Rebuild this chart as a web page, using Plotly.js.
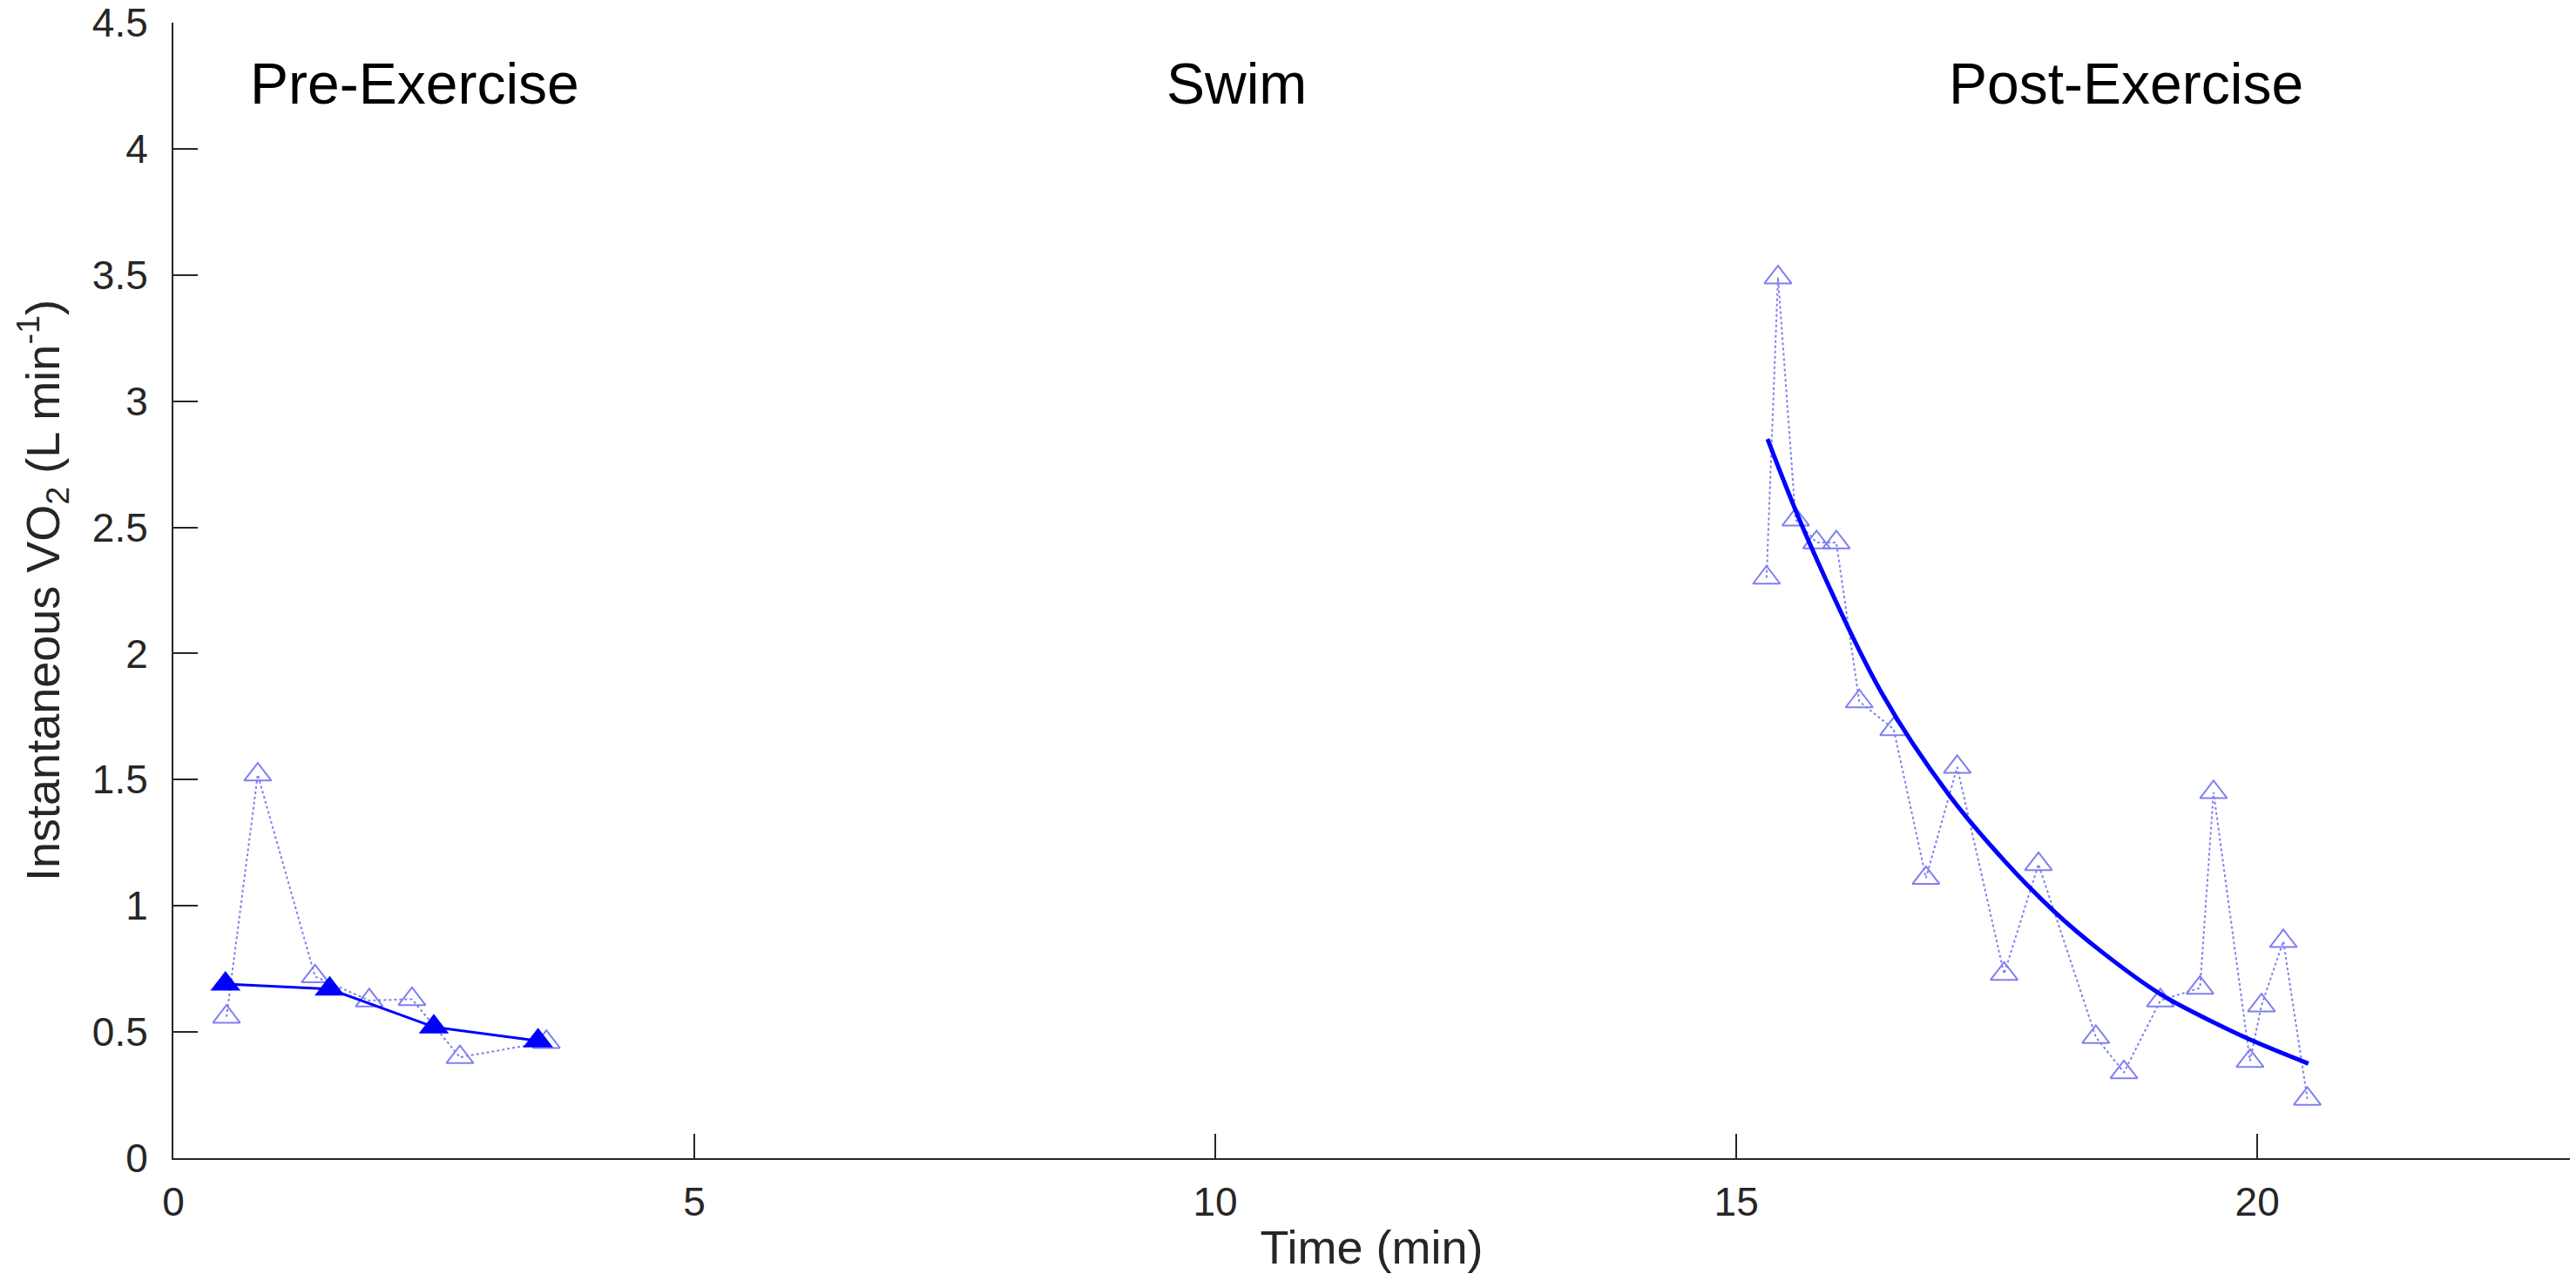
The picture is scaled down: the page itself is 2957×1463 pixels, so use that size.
<!DOCTYPE html>
<html>
<head>
<meta charset="utf-8">
<script src="https://cdn.plot.ly/plotly-3.0.1.min.js"></script>
<style>
html,body{margin:0;padding:0;background:#fff;}
#chart{width:2957px;height:1463px;}
</style>
</head>
<body>
<div id="chart"></div>
<script>
// Pre-exercise breath-by-breath (open triangles)
var preTime = [0.51, 0.81, 1.36, 1.88, 2.29, 2.75, 3.58];
var preVO2  = [0.56, 1.52, 0.72, 0.625, 0.63, 0.40, 0.46];
// Pre-exercise averaged (filled triangles)
var preAvgTime = [0.5, 1.5, 2.5, 3.5];
var preAvgVO2  = [0.69, 0.67, 0.52, 0.465];
// Post-exercise breath-by-breath (open triangles)
var postTime = [15.29, 15.40, 15.57, 15.77, 15.96, 16.18, 16.51, 16.82, 17.12, 17.57,
                17.90, 18.45, 18.72, 19.07, 19.45, 19.58, 19.93, 20.04, 20.25, 20.48];
var postVO2  = [2.30, 3.49, 2.53, 2.44, 2.44, 1.81, 1.70, 1.11, 1.55, 0.73,
                1.165, 0.48, 0.34, 0.625, 0.675, 1.45, 0.385, 0.605, 0.86, 0.235];
// Post-exercise fitted recovery curve
var fitTime = [15.30, 15.70, 16.40, 17.04, 17.57, 18.07, 18.50, 19.07, 19.50, 19.93, 20.49];
var fitVO2  = [2.85, 2.44, 1.84, 1.44, 1.18, 0.97, 0.82, 0.65, 0.555, 0.47, 0.375];
// Phase labels
var phaseText = ["Pre-Exercise", "Swim", "Post-Exercise"];
var phaseX = [2.32, 10.2, 18.74];
var phaseY = [4.26, 4.26, 4.26];

var light = 'rgb(128,128,240)';
var blue = 'rgb(0,0,255)';
var axisCol = '#262626';

var traces = [
  {x: preTime, y: preVO2, type: 'scatter', mode: 'lines+markers',
   line: {color: light, width: 2, dash: 'dot'},
   marker: {symbol: 'triangle-up-open', size: 27, color: light, line: {width: 2, color: light}}},
  {x: postTime, y: postVO2, type: 'scatter', mode: 'lines+markers',
   line: {color: light, width: 2, dash: 'dot'},
   marker: {symbol: 'triangle-up-open', size: 27, color: light, line: {width: 2, color: light}}},
  {x: preAvgTime, y: preAvgVO2, type: 'scatter', mode: 'lines+markers',
   line: {color: blue, width: 3},
   marker: {symbol: 'triangle-up', size: 30, color: blue}},
  {x: fitTime, y: fitVO2, type: 'scatter', mode: 'lines',
   line: {color: blue, width: 5, shape: 'spline', smoothing: 1}}
];

var annotations = phaseText.map(function(t, i){
  return {x: phaseX[i], y: phaseY[i], xref: 'x', yref: 'y', text: t, showarrow: false,
          font: {family: 'Liberation Sans, Arial, sans-serif', size: 66, color: '#000'}};
});

var layout = {
  width: 2957, height: 1463,
  margin: {l: 199, r: 7, t: 26, b: 133},
  paper_bgcolor: '#fff', plot_bgcolor: '#fff',
  showlegend: false,
  font: {family: 'Liberation Sans, Arial, sans-serif', color: axisCol},
  xaxis: {
    range: [0, 23], tickvals: [0, 5, 10, 15, 20], ticktext: ['0','5','10','15','20'],
    showgrid: false, zeroline: false, showline: true, linecolor: axisCol, linewidth: 2,
    ticks: 'inside', ticklen: 28, tickwidth: 2, tickcolor: axisCol,
    tickfont: {size: 46, color: axisCol}, ticklabelstandoff: 9,
    title: {text: 'Time (min)', font: {size: 54, color: axisCol}, standoff: 8},
    automargin: false, fixedrange: true
  },
  yaxis: {
    range: [0, 4.5], tickvals: [0, 0.5, 1, 1.5, 2, 2.5, 3, 3.5, 4, 4.5],
    ticktext: ['0','0.5','1','1.5','2','2.5','3','3.5','4','4.5'],
    showgrid: false, zeroline: false, showline: true, linecolor: axisCol, linewidth: 2,
    ticks: 'inside', ticklen: 28, tickwidth: 2, tickcolor: axisCol,
    tickfont: {size: 46, color: axisCol}, ticklabelstandoff: 18,
    title: {text: 'Instantaneous VO<sub>2</sub> (L min<sup>-1</sup>)', font: {size: 54, color: axisCol}, standoff: 20},
    automargin: false, fixedrange: true
  },
  annotations: annotations
};

Plotly.newPlot('chart', traces, layout, {displayModeBar: false, staticPlot: true});
</script>
</body>
</html>
